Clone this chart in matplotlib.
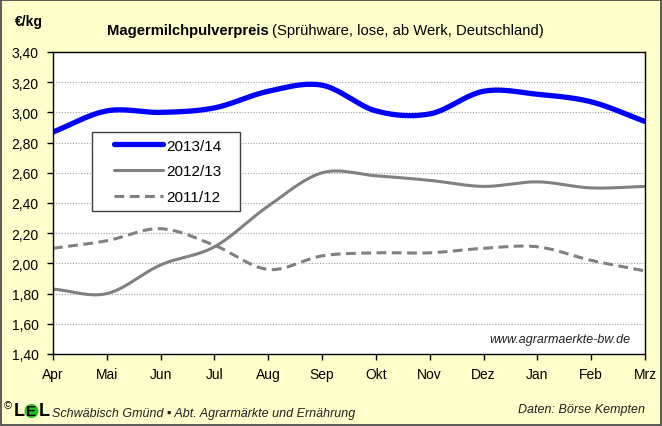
import numpy as np
import matplotlib
matplotlib.use("Agg")
import matplotlib.pyplot as plt
from matplotlib.patches import Rectangle, Ellipse

months = ["Apr", "Mai", "Jun", "Jul", "Aug", "Sep", "Okt", "Nov", "Dez", "Jan", "Feb", "Mrz"]
s2013_14 = [2.87, 3.01, 3.00, 3.03, 3.14, 3.18, 3.01, 2.99, 3.14, 3.12, 3.07, 2.94]
s2012_13 = [1.83, 1.80, 1.99, 2.11, 2.38, 2.60, 2.58, 2.55, 2.51, 2.54, 2.50, 2.51]
s2011_12 = [2.10, 2.15, 2.23, 2.12, 1.96, 2.05, 2.07, 2.07, 2.10, 2.11, 2.02, 1.95]
yticks = [1.40, 1.60, 1.80, 2.00, 2.20, 2.40, 2.60, 2.80, 3.00, 3.20, 3.40]


def smooth(y, n=20):
    """Catmull-Rom rendering of the line (Excel 'smoothed line' style)."""
    y = np.asarray(y, float)
    x = np.arange(len(y), dtype=float)
    P = np.concatenate([[2 * y[0] - y[1]], y, [2 * y[-1] - y[-2]]])
    xs, ys = [], []
    for i in range(len(y) - 1):
        t = np.linspace(0, 1, n, endpoint=False)
        p0, p1, p2, p3 = P[i], P[i + 1], P[i + 2], P[i + 3]
        yy = 0.5 * ((2 * p1) + (-p0 + p2) * t + (2 * p0 - 5 * p1 + 4 * p2 - p3) * t ** 2
                    + (-p0 + 3 * p1 - 3 * p2 + p3) * t ** 3)
        xs.append(x[i] + t)
        ys.append(yy)
    xs.append([x[-1]])
    ys.append([y[-1]])
    return np.concatenate(xs), np.concatenate(ys)


plt.rcParams['font.family'] = ['Liberation Sans', 'DejaVu Sans']
fig = plt.figure(figsize=(6.62, 4.27), dpi=100)
fig.patch.set_facecolor('#FFFFCC')
fig.patches.append(Rectangle((0.002, 0.003), 0.996, 0.994, transform=fig.transFigure,
                             fill=False, edgecolor='#404040', linewidth=1.2))

W, H = 662, 427
left, right, top, bottom = 53, 645, 53, 355
ax = fig.add_axes([left / W, 1 - bottom / H, (right - left) / W, (bottom - top) / H])
ax.set_facecolor('white')

x = np.arange(len(months))
ax.plot(*smooth(s2012_13), color='#808080', lw=2.2, label='2012/13', solid_capstyle='round')
ax.plot(*smooth(s2011_12), color='#808080', lw=2.2, ls=(0, (3.2, 1.8)), label='2011/12')
ax.plot(*smooth(s2013_14), color='#0000FF', lw=3.8, label='2013/14', solid_capstyle='round')

ax.set_xlim(0, len(months) - 1)
ax.set_ylim(1.40, 3.40)
ax.set_yticks(yticks)
ax.set_yticklabels([f"{v:.2f}".replace('.', ',') for v in yticks], fontsize=10)
ax.set_xticks(x)
ax.set_xticklabels(months, fontsize=10)
ax.tick_params(axis='both', direction='out', length=4.5, width=1, color='black')
ax.tick_params(axis='y', pad=6)
ax.tick_params(axis='x', pad=5)
ax.grid(axis='y', color='#A0A0A0', ls=(0, (1, 1.5)), lw=0.8)
for sp in ax.spines.values():
    sp.set_color('black')
    sp.set_linewidth(1)

# legend frame (pixel box) + legend content
lx0, ly0, lx1, ly1 = 92, 133, 240, 212
fig.patches.append(Rectangle((lx0 / W, 1 - ly1 / H), (lx1 - lx0) / W, (ly1 - ly0) / H,
                             transform=fig.transFigure, facecolor='white', edgecolor='#404040',
                             linewidth=1, zorder=4))
handles, labels = ax.get_legend_handles_labels()
order = [2, 0, 1]
leg = fig.legend([handles[i] for i in order], [labels[i] for i in order],
                 loc='center', bbox_to_anchor=(168 / W, 1 - 172.5 / H),
                 fontsize=11, frameon=False,
                 handlelength=3.2, handletextpad=0.2, borderpad=0, labelspacing=0.78,
                 borderaxespad=0)
leg.set_zorder(5)

ax.text(0.975, 0.05, "www.agrarmaerkte-bw.de", transform=ax.transAxes, ha='right', va='center',
        fontsize=9, style='italic', color='#202020')

fig.text(15 / W, 1 - 22 / H, "€/kg", fontsize=10, fontweight='bold', ha='left', va='center')
t1 = fig.text(107 / W, 1 - 31 / H, "Magermilchpulverpreis", fontsize=10.7, fontweight='bold',
              ha='left', va='center')
fig.canvas.draw()
bb = t1.get_window_extent()
fig.text(bb.x1 / W + 3 / W, 1 - 31 / H, "(Sprühware, lose, ab Werk, Deutschland)", fontsize=10.7,
         ha='left', va='center')

# footer logo
fig.text(4 / W, 1 - 406 / H, "©", fontsize=8, ha='left', va='center')
fig.text(14 / W, 1 - 412 / H, "L", fontsize=13, fontweight='bold', ha='left', va='center')
fig.patches.append(Ellipse((31.5 / W, 1 - 412 / H), 14 / W, 14 / H, transform=fig.transFigure,
                           facecolor='#22C022', edgecolor='none', zorder=1))
fig.text(26 / W, 1 - 412 / H, "E", fontsize=11, fontweight='bold', ha='left', va='center',
         color='black', zorder=2)
fig.text(39 / W, 1 - 412 / H, "L", fontsize=13, fontweight='bold', ha='left', va='center')
fig.text(52 / W, 1 - 414 / H, "Schwäbisch Gmünd ▪ Abt. Agrarmärkte und Ernährung", fontsize=9,
         style='italic', ha='left', va='center', color='#202020')
fig.text(645 / W, 1 - 410 / H, "Daten: Börse Kempten", fontsize=9, style='italic',
         ha='right', va='center', color='#202020')

fig.savefig("out.png", dpi=100, facecolor=fig.get_facecolor())
